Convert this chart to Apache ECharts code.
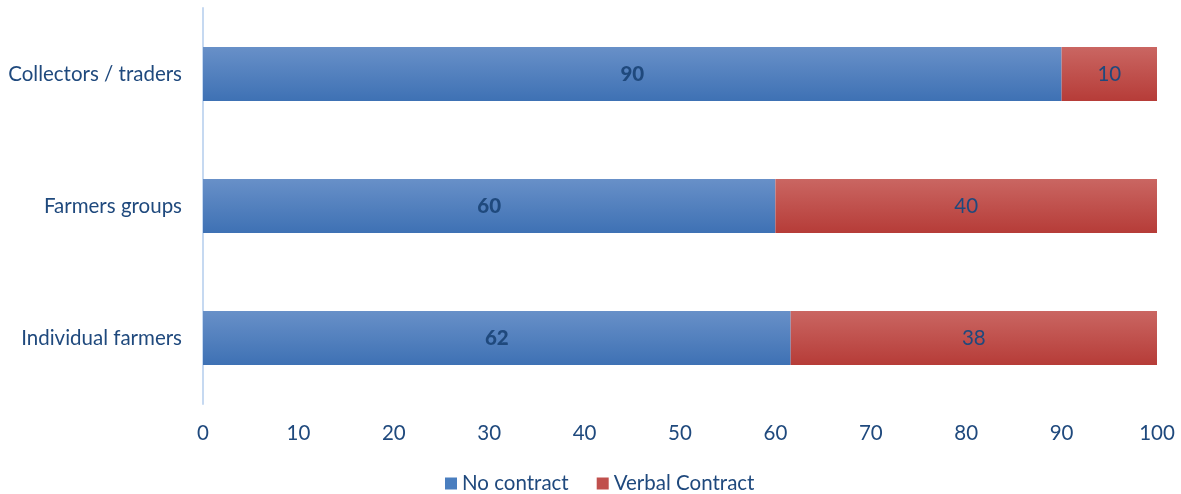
<!DOCTYPE html>
<html><head><meta charset="utf-8">
<script src="https://cdn.jsdelivr.net/npm/echarts@6/dist/echarts.min.js"></script>
<style>html,body{margin:0;padding:0;background:#fff}#c{width:1181px;height:494px}</style>
</head><body><div id="c"></div>
<script>
const categories = ['Individual farmers', 'Farmers groups', 'Collectors / traders'];
const noContract = [61.6, 60, 90];
const verbalContract = [38.4, 40, 10];
const xTicks = [0, 10, 20, 30, 40, 50, 60, 70, 80, 90, 100];

const txt = '#1f497d';
const font = 'Lato';
const fs = 20.5;
const chart = echarts.init(document.getElementById('c'));
function grad(a, b) {
  return new echarts.graphic.LinearGradient(0, 0, 0, 1, [{offset: 0, color: a}, {offset: 1, color: b}]);
}
chart.setOption({
  animation: false,
  textStyle: {fontFamily: font},
  grid: {left: 203, right: 24, top: 8, bottom: 90},
  legend: {
    top: 468, left: 440, itemWidth: 12, itemHeight: 12, itemGap: 28, icon: 'rect',
    textStyle: {color: txt, fontSize: fs, fontFamily: font},
    data: [{name: 'No contract', itemStyle: {color: '#4a7ebf'}}, {name: 'Verbal Contract', itemStyle: {color: '#c0504d'}}]
  },
  xAxis: {
    type: 'value', min: 0, max: 100, interval: 10,
    axisLine: {show: false}, axisTick: {show: false}, splitLine: {show: false},
    axisLabel: {color: txt, fontSize: fs, margin: 19, fontFamily: font,
      formatter: v => xTicks.includes(v) ? String(v) : ''}
  },
  yAxis: {
    type: 'category', data: categories,
    axisLine: {show: true, lineStyle: {color: '#c6d9f1', width: 2}},
    axisTick: {show: false},
    axisLabel: {color: txt, fontSize: fs, margin: 21, fontFamily: font}
  },
  series: [
    {name: 'No contract', type: 'bar', stack: 's', data: noContract, barWidth: 54,
      itemStyle: {color: grad('#6890c8', '#3e71b4')},
      label: {show: true, position: 'inside', color: txt, fontSize: fs, fontWeight: 900, fontFamily: font,
        formatter: p => Math.round(p.value)}},
    {name: 'Verbal Contract', type: 'bar', stack: 's', data: verbalContract, barWidth: 54,
      itemStyle: {color: grad('#ca6662', '#b63c38')},
      label: {show: true, position: 'inside', color: txt, fontSize: fs, fontFamily: font,
        formatter: p => Math.round(p.value)}}
  ]
});
</script></body></html>
